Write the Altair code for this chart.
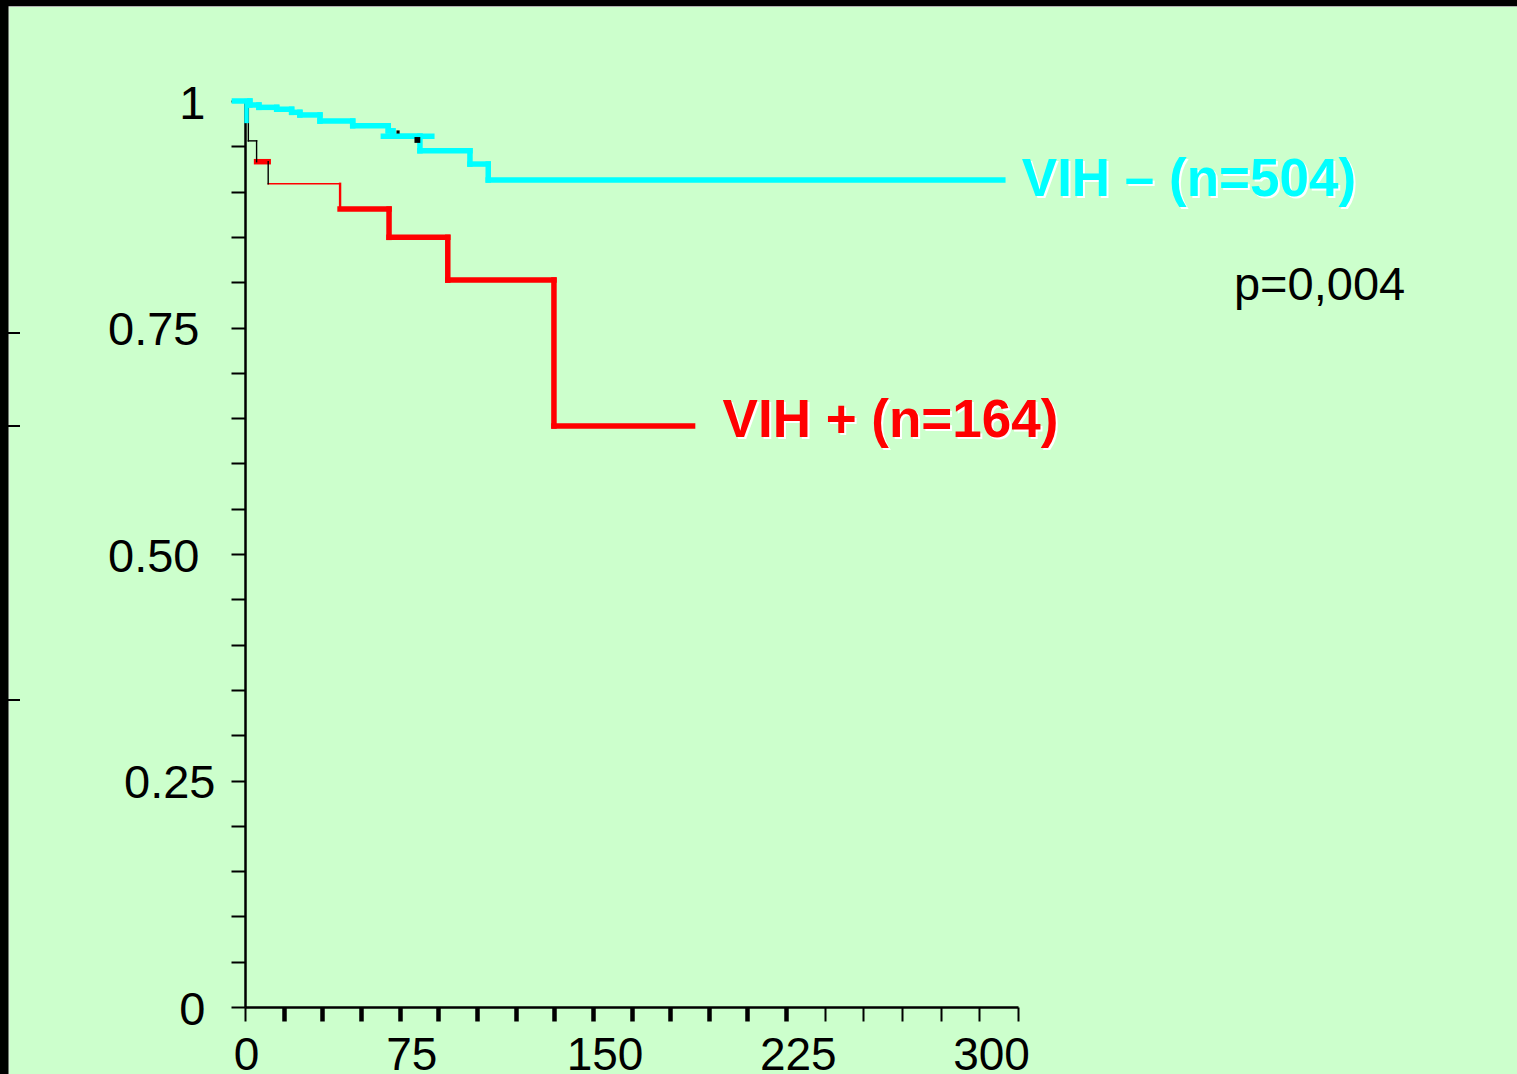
import altair as alt
import pandas as pd

# Kaplan-Meier estimates: step times (days) and survival after each step
vih_pos_times = [0, 1.3, 4.5, 9.0, 36.9, 55.9, 78.7, 119.9]
vih_pos_surv = [1.0, 0.956, 0.933, 0.9086, 0.8807, 0.8495, 0.8023, 0.6414]
vih_pos_last = 173.7

vih_neg_times = [-4.1, 1.9, 5.4, 12.3, 18.1, 21.3, 29.1, 41.8, 55.6, 57.4, 67.9, 87.3, 94.4]
vih_neg_surv = [1.0, 0.9956, 0.993, 0.9909, 0.9875, 0.9846, 0.9778, 0.9727, 0.967, 0.9611,
                0.9451, 0.9304, 0.9128]
vih_neg_last = 294.1

# censored observations
censor_times = [59.4, 66.9]
censor_surv = [0.9658, 0.957]
censor_sizes = [10, 34]

group_labels = ["VIH \u2013 (n=504)", "VIH + (n=164)"]
p_value_text = "p=0,004"
p_value_pos = (384.2, 0.780)

x_ticks = list(range(0, 301, 15))
y_ticks = [round(i * 0.05, 2) for i in range(21)]

FONT = "Liberation Sans"
CYAN = "#00FFFF"
RED = "#FF0000"
THICK = 5.5
THIN = 1.4

xscale = alt.Scale(domain=[0, 300], nice=False, zero=False)
yscale = alt.Scale(domain=[0, 1], nice=False, zero=False)

x_axis = alt.Axis(
    values=x_ticks, title=None, grid=False,
    domainColor="black", domainWidth=2.5,
    tickColor="black", tickSize=14,
    tickWidth={"condition": {"test": "datum.value >= 15 && datum.value <= 210", "value": 4.5},
               "value": 2},
    labelExpr="datum.value % 75 === 0 ? datum.label : ''",
    labelOffset={"condition": {"test": "datum.value == 0", "value": 1}, "value": -27},
    labelFont=FONT, labelFontSize=46, labelColor="black",
    labelPadding=12, labelFlush=False, labelOverlap=False, labelBound=False,
)
y_axis = alt.Axis(
    values=y_ticks, title=None, grid=False,
    domainColor="black", domainWidth=2.5,
    tickColor="black", tickSize=14, tickWidth=2,
    labelExpr=("datum.value == 1 ? '1' : datum.value == 0 ? '0' : "
               "(datum.value == 0.25 || datum.value == 0.5 || datum.value == 0.75) ? "
               "format(datum.value, '.2f') : ''"),
    labelFont=FONT, labelFontSize=47, labelColor="black",
    labelPadding={"condition": [
        {"test": "datum.value == 0.25", "value": 16},
        {"test": "datum.value == 0 || datum.value == 1", "value": 26},
    ], "value": 32},
    labelOffset=3, labelOverlap=False, labelBound=False,
)


def km_segments(times, surv, last, h_styles, v_styles):
    """Horizontal and vertical pieces of a step curve, each with its own stroke."""
    rows = []
    ends = times[1:] + [last]
    for i, (t0, t1, s) in enumerate(zip(times, ends, surv)):
        color, w = h_styles[i]
        rows.append(dict(t0=t0, t1=t1, s0=s, s1=s, color=color, width=w))
    for i in range(1, len(times)):
        color, w = v_styles[i - 1]
        rows.append(dict(t0=times[i], t1=times[i], s0=surv[i - 1], s1=surv[i],
                         color=color, width=w))
    return rows


pos_h = [("black", THIN), ("black", THIN), (RED, THICK), (RED, THIN),
         (RED, THICK), (RED, THICK), (RED, THICK), (RED, THICK)]
pos_v = [("black", THIN), ("black", THIN), ("black", THIN), (RED, 2.4),
         (RED, THICK), (RED, THICK), (RED, THICK)]
pos_rows = km_segments(vih_pos_times, vih_pos_surv, vih_pos_last, pos_h, pos_v)

neg_h = [(CYAN, THICK)] * len(vih_neg_times)
neg_v = [(CYAN, THICK)] * (len(vih_neg_times) - 1)
neg_rows = km_segments(vih_neg_times, vih_neg_surv, vih_neg_last, neg_h, neg_v)
# overlapping pieces where the two plotted curves coincide near the start and around day 60
neg_rows.append(dict(t0=0.6, t1=0.6, s0=1.0, s1=0.978, color=CYAN, width=4.5))
neg_rows.append(dict(t0=53.7, t1=72.5, s0=0.9611, s1=0.9611, color=CYAN, width=THICK))


def seg_layer(rows):
    df = pd.DataFrame(rows)
    return alt.Chart(df).mark_rule(strokeCap="square").encode(
        x=alt.X("t0:Q", scale=xscale, axis=x_axis),
        x2="t1:Q",
        y=alt.Y("s0:Q", scale=yscale, axis=y_axis),
        y2="s1:Q",
        color=alt.Color("color:N", scale=None),
        strokeWidth=alt.StrokeWidth("width:Q", scale=None),
    )


censor_df = pd.DataFrame({"t0": censor_times, "s0": censor_surv, "sz": censor_sizes})
censor_layer = alt.Chart(censor_df).mark_square(color="black", opacity=1).encode(
    x=alt.X("t0:Q", scale=xscale, axis=x_axis),
    y=alt.Y("s0:Q", scale=yscale, axis=y_axis),
    size=alt.Size("sz:Q", scale=None),
)


def text_layer(t, s, text, color, dx, dy, size, weight, shadow=False):
    df = pd.DataFrame({"t0": [t], "s0": [s], "label": [text]})
    off = 2 if shadow else 0
    return alt.Chart(df).mark_text(
        align="left", baseline="alphabetic", dx=dx + off, dy=dy + off,
        font=FONT, fontSize=size, fontWeight=weight,
        color="white" if shadow else color,
    ).encode(
        x=alt.X("t0:Q", scale=xscale, axis=x_axis),
        y=alt.Y("s0:Q", scale=yscale, axis=y_axis),
        text="label:N",
    )


labels = []
for shadow in (True, False):
    labels.append(text_layer(vih_neg_last, vih_neg_surv[-1], group_labels[0], CYAN,
                             19, 16, 53, "bold", shadow))
    labels.append(text_layer(vih_pos_last, vih_pos_surv[-1], group_labels[1], RED,
                             30, 11, 53, "bold", shadow))
labels.append(text_layer(p_value_pos[0], p_value_pos[1], p_value_text, "black",
                         -1, 0, 47, "normal"))

# black slide frame along the top and left edges
dummy = pd.DataFrame({"k": [0]})


def frame_rect(x0, x1, y0, y1, color):
    return alt.Chart(dummy).mark_rect(color=color).encode(
        x=alt.value(x0), x2=alt.value(x1), y=alt.value(y0), y2=alt.value(y1)
    )


frame = [
    frame_rect(-236.5, -235.5, -101, 973, "#e8e8e8"),
    frame_rect(-245, 1272, -95, -94, "#b0b0b0"),
    frame_rect(-245, -236.5, -101, 973, "black"),
    frame_rect(-245, 1272, -101, -95, "black"),
    # stubs of the neighbouring panel's axis at the left edge
    frame_rect(-237, -225, 231, 233, "black"),
    frame_rect(-237, -225, 324, 326, "black"),
    frame_rect(-237, -225, 598, 600, "black"),
]

chart = alt.layer(
    seg_layer(pos_rows), seg_layer(neg_rows), censor_layer, *labels, *frame
).properties(
    width=773, height=906,
    padding={"left": 245, "top": 101, "right": 499, "bottom": 67},
    autosize=alt.AutoSizeParams(type="none"),
    background="#CCFFCC",
).configure_view(stroke=None)

chart.save("out.html", embed_options={"renderer": "svg", "actions": False})
